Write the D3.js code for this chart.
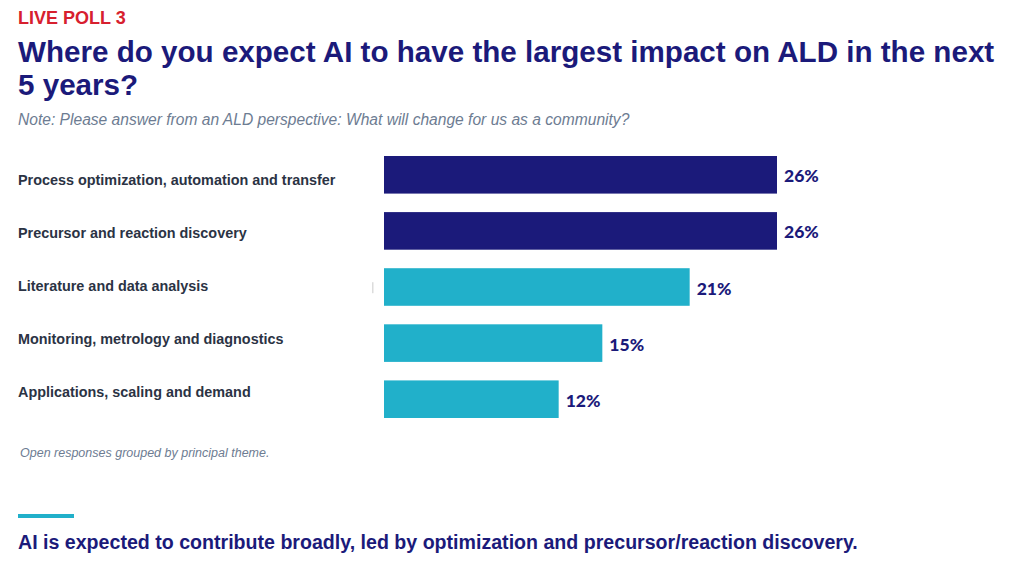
<!DOCTYPE html>
<html>
<head>
<meta charset="utf-8">
<script src="https://cdn.jsdelivr.net/npm/d3@7"></script>
<style>
  html, body { margin: 0; padding: 0; background: #fff; }
  svg { display: block; }
</style>
</head>
<body>
<div id="chart"></div>
<script>
// Poll results
const categories = [
  'Process optimization, automation and transfer',
  'Precursor and reaction discovery',
  'Literature and data analysis',
  'Monitoring, metrology and diagnostics',
  'Applications, scaling and demand'
];
// bar lengths as drawn (top two bars run a bit past 26 on the same scale)
const barValues = [27, 27, 21, 15, 12];
const valueLabels = ['26%', '26%', '21%', '15%', '12%'];
const leaders = [true, true, false, false, false];

const width = 1024;
const height = 566;

const navy = '#1b1a7a';
const teal = '#21b0ca';
const sans = '"Liberation Sans", Arial, sans-serif';

const svg = d3.select('#chart')
  .append('svg')
  .attr('width', width)
  .attr('height', height);

// Header
svg.append('text')
  .attr('x', 18)
  .attr('y', 24)
  .style('font-family', sans)
  .style('font-size', '18px')
  .style('font-weight', 'bold')
  .style('fill', '#d7202e')
  .text('LIVE POLL 3');

const titleLines = [
  'Where do you expect AI to have the largest impact on ALD in the next',
  '5 years?'
];
svg.append('g').selectAll('text')
  .data(titleLines)
  .enter()
  .append('text')
  .attr('x', 18)
  .attr('y', (d, i) => 62 + i * 33)
  .style('font-family', sans)
  .style('font-size', '29.6px')
  .style('font-weight', 'bold')
  .style('fill', navy)
  .text(d => d);

svg.append('text')
  .attr('x', 18)
  .attr('y', 125)
  .style('font-family', sans)
  .style('font-size', '15.6px')
  .style('font-style', 'italic')
  .style('fill', '#6d7c92')
  .text('Note: Please answer from an ALD perspective: What will change for us as a community?');

// Scales
const x = d3.scaleLinear()
  .domain([0, 27])
  .range([384, 777]);

const y = d3.scaleBand()
  .domain(categories)
  .range([156, 418])
  .paddingInner(0.33)
  .paddingOuter(0);

// category labels sit on their own slightly tighter rhythm
const yLabel = d3.scalePoint()
  .domain(categories)
  .range([185, 397]);

svg.append('g').selectAll('text')
  .data(categories)
  .enter()
  .append('text')
  .attr('x', 18)
  .attr('y', d => yLabel(d))
  .style('font-family', sans)
  .style('font-size', '14.4px')
  .style('font-weight', 'bold')
  .style('fill', '#2b3344')
  .text(d => d);

// faint stray tick left of the third bar
svg.append('rect')
  .attr('x', x(0) - 12)
  .attr('y', y(categories[2]) + 14)
  .attr('width', 1.5)
  .attr('height', 11)
  .attr('fill', '#dcdcdc');

// Bars
const bars = svg.append('g').selectAll('g')
  .data(categories)
  .enter()
  .append('g');

bars.append('rect')
  .attr('x', x(0))
  .attr('y', d => y(d))
  .attr('width', (d, i) => x(barValues[i]) - x(0))
  .attr('height', y.bandwidth())
  .attr('fill', (d, i) => leaders[i] ? navy : teal);

bars.append('text')
  .attr('x', (d, i) => x(barValues[i]) + 7)
  .attr('y', d => y(d) + y.bandwidth() / 2 + 7.5)
  .style('font-family', 'Lato, "Open Sans", sans-serif')
  .style('font-size', '17.5px')
  .style('font-weight', '900')
  .style('fill', navy)
  .text((d, i) => valueLabels[i]);

// Footnote
svg.append('text')
  .attr('x', 20)
  .attr('y', 456.5)
  .style('font-family', sans)
  .style('font-size', '12.5px')
  .style('font-style', 'italic')
  .style('fill', '#6d7c92')
  .text('Open responses grouped by principal theme.');

// Takeaway
svg.append('rect')
  .attr('x', 18)
  .attr('y', 514)
  .attr('width', 56)
  .attr('height', 4)
  .attr('fill', teal);

svg.append('text')
  .attr('x', 18)
  .attr('y', 549)
  .style('font-family', sans)
  .style('font-size', '19.6px')
  .style('font-weight', 'bold')
  .style('fill', navy)
  .text('AI is expected to contribute broadly, led by optimization and precursor/reaction discovery.');
</script>
</body>
</html>
